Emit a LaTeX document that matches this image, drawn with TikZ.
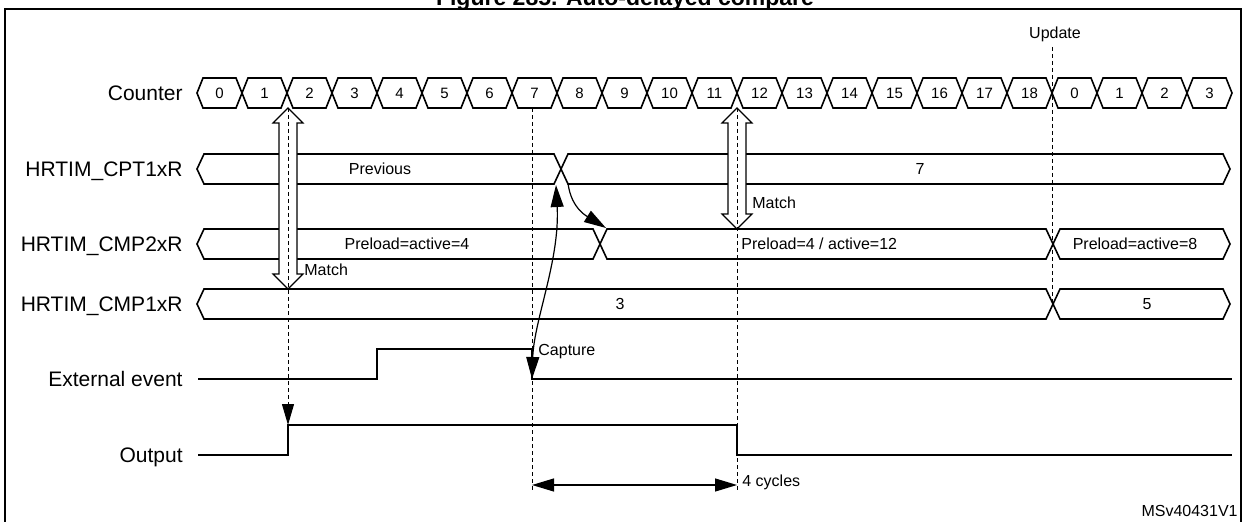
\documentclass[tikz,border=0pt]{standalone}
\usepackage{fontspec}
\setmainfont{Liberation Sans}
\usetikzlibrary{positioning}
\usetikzlibrary{arrows.meta}
\tikzset{
    sigtext/.style = {anchor=east, inner sep=0pt, text height=7.5bp, text depth=0pt, font=\fontsize{10.5bp}{12bp}\selectfont},
    valtext/.style = {inner sep=0pt, text height=5.7bp, text depth=0pt, font=\fontsize{8bp}{9.5bp}\selectfont},
    cnttext/.style = {inner sep=0pt, text height=5.4bp, text depth=0pt, font=\fontsize{7.5bp}{9bp}\selectfont},
    titletext/.style = {inner sep=0pt, font=\bfseries\fontsize{11.5bp}{13bp}\selectfont},
    frame/.style = {line width=1bp, black},
    busline/.style = {line width=0.8bp, black},
    sigline/.style = {line width=1bp, black},
    guide/.style = {line width=0.5bp, black, dash pattern=on 2bp off 1.5bp},
    hollow/.style = {line width=0.6bp, draw=black, fill=white},
    evarrow/.style = {line width=0.6bp, black, {Triangle[length=11bp,width=6.5bp]}-{Triangle[length=11bp,width=6.5bp]}},
    evarrowe/.style = {line width=0.6bp, black, -{Triangle[length=11bp,width=6.5bp]}}
}
% one value of a register bus: from x #1 to x #2, centre line y #3
\newcommand{\regseg}[3]{%
  \draw[busline] (#1,#3) -- (#1+7,#3-15) -- (#2-7,#3-15) -- (#2,#3) -- (#2-7,#3+15) -- (#1+7,#3+15) -- cycle;}
% hollow two-headed match arrow at x #1 from y #2 to y #3
\newcommand{\matcharrow}[3]{%
  \draw[hollow] (#1,#2) -- (#1+15,#2+15) -- (#1+9,#2+15) -- (#1+9,#3-15) -- (#1+15,#3-15) -- (#1,#3)
    -- (#1-15,#3-15) -- (#1-9,#3-15) -- (#1-9,#2+15) -- (#1-15,#2+15) -- cycle;}

\begin{document}
\begin{tikzpicture}[x=0.5bp, y=-0.5bp]
  \useasboundingbox (0,0) rectangle (1246,522);
  \draw[frame] (5,540) -- (5,9) -- (1241,9) -- (1241,540);
  \node[titletext, anchor=base] (title) at (625,6) {Figure 285. Auto-delayed compare};

  % signal names
  \node[sigtext] (lcnt) at (183,93) {Counter};
  \node[sigtext] (lcpt) at (183,169) {HRTIM\_CPT1xR};
  \node[sigtext] (lcmp2) at (183,244) {HRTIM\_CMP2xR};
  \node[sigtext] (lcmp1) at (183,304) {HRTIM\_CMP1xR};
  \node[sigtext] (lext) at (183,379) {External event};
  \node[sigtext] (lout) at (183,455) {Output};

  % counter
  \foreach \v [count=\i from 0] in {0,1,2,3,4,5,6,7,8,9,10,11,12,13,14,15,16,17,18,0,1,2,3} {
    \pgfmathsetmacro\xa{197+45*\i}
    \pgfmathsetmacro\xb{242+45*\i}
    \draw[busline] (\xa,93) -- (\xa+6,78) -- (\xb-6,78) -- (\xb,93) -- (\xb-6,108) -- (\xa+6,108) -- cycle;
    \node[cnttext] (cnt\i) at (\xa+22.5,93) {\v};
  }

  % registers
  \regseg{197}{561}{169}
  \regseg{561}{1230}{169}
  \node[valtext] (cptold) at (380,169) {Previous};
  \node[valtext] (cptnew) at (920,169) {7};
  \regseg{197}{600}{244}
  \regseg{600}{1053}{244}
  \regseg{1053}{1230}{244}
  \node[valtext] (cmp2a) at (407,244) {Preload=active=4};
  \node[valtext, anchor=west] (cmp2b) at (741,244) {Preload=4 / active=12};
  \node[valtext] (cmp2c) at (1135,244) {Preload=active=8};
  \regseg{197}{1053}{304}
  \regseg{1053}{1230}{304}
  \node[valtext] (cmp1a) at (620,304) {3};
  \node[valtext] (cmp1b) at (1147,304) {5};

  % waveforms
  \draw[sigline] (198,379) -- (377,379) -- (377,349) -- (532,349) -- (532,379) -- (1232,379);
  \draw[sigline] (198,455) -- (288,455) -- (288,425) -- (737,425) -- (737,455) -- (1232,455);

  \coordinate (m1top) at (288,108);
  \coordinate (outrise) at (288,425);
  \coordinate (m2top) at (737,108);
  \coordinate (capx) at (532,108);
  \coordinate (capend) at (532,490);
  \coordinate (cmpend) at (737,490);
  \coordinate (evfall) at (532,379);
  \coordinate (cptx) at (556,185);
  \coordinate (cptout) at (568,183);
  \coordinate (cmp2x) at (606,228);
  \coordinate (updtop) at (1052,47);
  \coordinate (updbot) at (1052,304);
  \coordinate (cyca) at (532,485);
  \coordinate (cycb) at (737,485);

  % match arrows
  \matcharrow{288}{108}{289}
  \matcharrow{737}{108}{229}
  \node[valtext, anchor=west] (match1) at (304,270) {Match};
  \node[valtext, anchor=west] (match2) at (752,203) {Match};

  % guides
  \draw[guide, -{Triangle[length=10.5bp,width=6bp]}] (m1top) -- (outrise);
  \draw[guide] (capx) -- (capend);
  \draw[guide] (m2top) -- (cmpend);
  \draw[guide] (updtop) -- (updbot);
  \node[valtext] (upd) at (1055,33) {Update};

  % capture and transfer
  \draw[evarrow] (evfall) .. controls (534,320) and (560,260) .. (cptx);
  \node[valtext, anchor=west] (captxt) at (538,350) {Capture};
  \draw[evarrowe] (cptout) .. controls (571,210) and (590,218) .. (cmp2x);

  % delay
  \draw[evarrow] (cyca) -- (cycb);
  \node[valtext, anchor=west] (cyc) at (742,481) {4 cycles};

  \node[valtext, anchor=east] (ref) at (1238,511) {MSv40431V1};
\end{tikzpicture}
\end{document}
